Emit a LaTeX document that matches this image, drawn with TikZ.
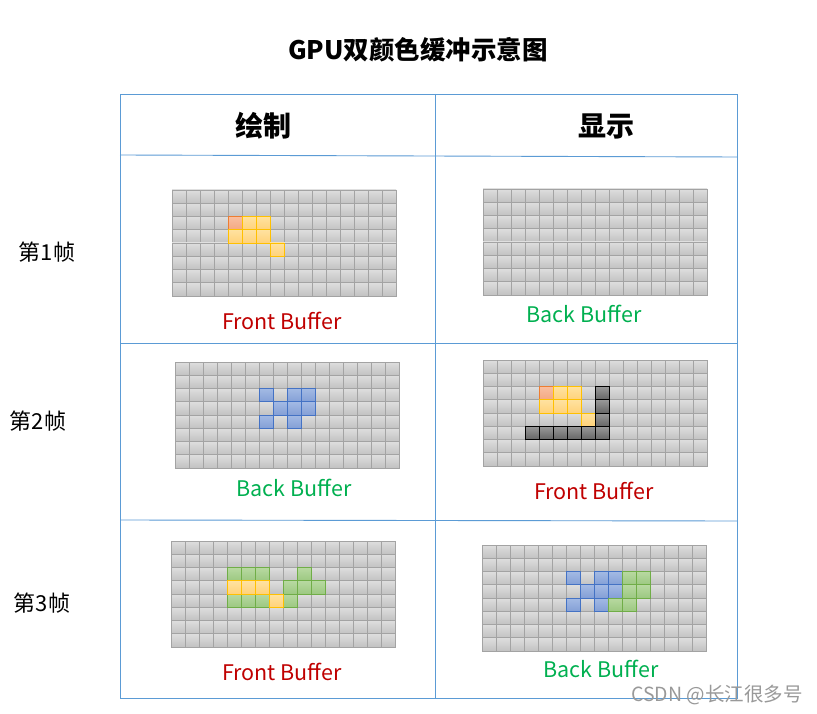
\documentclass[tikz,border=0pt]{standalone}
\usepackage{fontspec}
\setmainfont{Noto Sans CJK SC}
\definecolor{tblue}{HTML}{5B9BD5}
\definecolor{gline}{HTML}{A3A3A3}
\definecolor{redtxt}{HTML}{C00000}
\definecolor{greentxt}{HTML}{00B050}
\definecolor{rfillA}{HTML}{F8BFA0}\definecolor{rfillB}{HTML}{F4A882}\definecolor{rline}{HTML}{ED7D31}
\definecolor{yfillA}{HTML}{FFE2A0}\definecolor{yfillB}{HTML}{FFD27A}\definecolor{yline}{HTML}{FFC000}
\definecolor{bfillA}{HTML}{A3BAE4}\definecolor{bfillB}{HTML}{849FD6}\definecolor{bline}{HTML}{4472C4}
\definecolor{gfillA}{HTML}{B8D9A1}\definecolor{gfillB}{HTML}{9CC881}\definecolor{gnline}{HTML}{70AD47}
\tikzset{
  cellg/.style={draw=gline, line width=0.8pt, top color=black!13, bottom color=black!24},
  cellr/.style={draw=rline, line width=0.9pt, top color=rfillA, bottom color=rfillB},
  celly/.style={draw=yline, line width=0.9pt, top color=yfillA, bottom color=yfillB},
  cellb/.style={draw=bline, line width=0.9pt, top color=bfillA, bottom color=bfillB},
  cellgr/.style={draw=gnline, line width=0.9pt, top color=gfillA, bottom color=gfillB},
  celld/.style={draw=black, line width=0.9pt, top color=black!40, bottom color=black!60},
  tline/.style={draw=tblue, line width=0.9pt},
  hdr/.style={font=\fontsize{28}{32}\selectfont\bfseries},
  rowlbl/.style={font=\fontsize{22}{26}\selectfont},
  buf/.style={font=\fontsize{21.5}{25}\selectfont}
}
\newcommand\bufgrid[3]{%
  \begin{scope}[shift={(#1,#2)}]
    \foreach \c in {0,...,15} \foreach \r in {0,...,7}
      \path[cellg] (\c*14,\r*13.25) rectangle ++(14,13.25);
    \foreach \c/\r/\s in {#3}
      \path[\s] (\c*14,\r*13.25) rectangle ++(14,13.25);
  \end{scope}}
\begin{document}
\begin{tikzpicture}[x=1pt,y=-1pt]
\path[use as bounding box, fill=white] (0,0) rectangle (817,714);
% title
\node[font=\fontsize{25.5}{28}\selectfont\bfseries] (title) at (418,50) {GPU双颜色缓冲示意图};
% table
\coordinate (tl) at (120,94);
\coordinate (br) at (737,698);
\draw[tline] (tl) rectangle (br);
\draw[tline] (120,155) -- (737,157);
\draw[tline] (120,343) -- (737,343);
\draw[tline] (120,520) -- (737,521);
\draw[tline] (435,94) -- (435,698);
% headers
\node[hdr] (h1) at (263,126) {绘制};
\node[hdr] (h2) at (606,126) {显示};
% row labels
\node[rowlbl] (r1) at (47,252) {第1帧};
\node[rowlbl] (r2) at (38,421) {第2帧};
\node[rowlbl] (r3) at (42,603) {第3帧};
% grids
\bufgrid{172}{190}{4/2/cellr,5/2/celly,6/2/celly,4/3/celly,5/3/celly,6/3/celly,7/4/celly}
\bufgrid{483}{189}{}
\bufgrid{175}{362}{6/2/cellb,8/2/cellb,9/2/cellb,7/3/cellb,8/3/cellb,9/3/cellb,6/4/cellb,8/4/cellb}
\bufgrid{483}{360}{4/2/cellr,5/2/celly,6/2/celly,4/3/celly,5/3/celly,6/3/celly,7/4/celly,8/2/celld,8/3/celld,8/4/celld,3/5/celld,4/5/celld,5/5/celld,6/5/celld,7/5/celld,8/5/celld}
\bufgrid{171}{541}{4/2/cellgr,5/2/cellgr,6/2/cellgr,9/2/cellgr,8/3/cellgr,9/3/cellgr,10/3/cellgr,4/4/cellgr,5/4/cellgr,6/4/cellgr,8/4/cellgr,4/3/celly,5/3/celly,6/3/celly,7/4/celly}
\bufgrid{482}{545}{6/2/cellb,8/2/cellb,9/2/cellb,7/3/cellb,8/3/cellb,9/3/cellb,6/4/cellb,8/4/cellb,10/2/cellgr,11/2/cellgr,10/3/cellgr,11/3/cellgr,9/4/cellgr,10/4/cellgr}
% buffer labels
\node[buf, text=redtxt] (l1) at (282,321) {Front Buffer};
\node[buf, text=greentxt] (l2) at (584,314) {Back Buffer};
\node[buf, text=greentxt] (l3) at (294,488) {Back Buffer};
\node[buf, text=redtxt] (l4) at (594,491) {Front Buffer};
\node[buf, text=redtxt] (l5) at (282,672) {Front Buffer};
\node[buf, text=greentxt] (l6) at (601,669) {Back Buffer};
% watermark
\node[font=\fontsize{19.5}{22}\selectfont, text=black!40] (wm) at (717,695) {CSDN @长江很多号};
\end{tikzpicture}
\end{document}
